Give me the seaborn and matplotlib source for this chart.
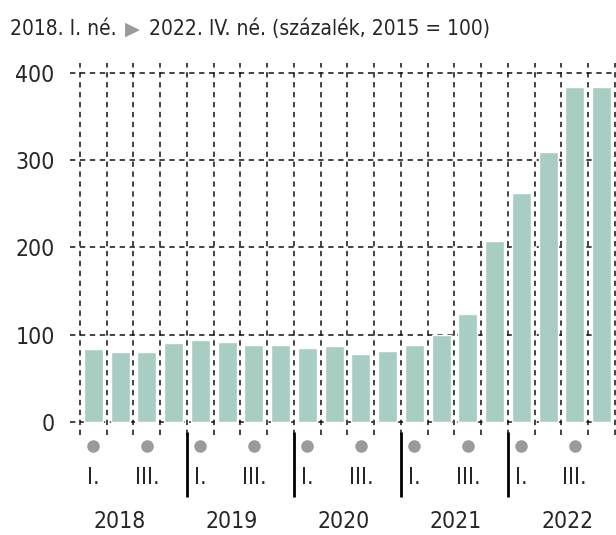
import numpy as np
import pandas as pd
import matplotlib
matplotlib.use('Agg')
import matplotlib.pyplot as plt
from matplotlib import font_manager
import seaborn as sns

# Data, quarterly index, 2015 = 100
years = ['2018', '2019', '2020', '2021', '2022']
quarters = ['I.', 'II.', 'III.', 'IV.']
values = [84, 80, 79.5, 90.5,
          94, 91.5, 87.5, 87.5,
          84.5, 86.5, 77.5, 81,
          88, 99, 124, 208,
          262, 310, 384, 384]
yticks = [0, 100, 200, 300, 400]
title_parts = ['2018. I. né.', '2022. IV. né. (százalék, 2015 = 100)']

cats = [f'{y} {q}' for y in years for q in quarters]
df = pd.DataFrame({'quarter': cats, 'value': values})

# look for a condensed face, the original uses a narrow font
cond = [f for f in font_manager.fontManager.ttflist
        if ('Condensed' in f.name or 'Narrow' in f.name
            or str(f.stretch) in ('condensed', 'semi-condensed', 'extra-condensed'))
        and f.weight in (400, 'normal', 'regular') and f.style == 'normal']

sns.set_style('white')
if cond:
    fp = font_manager.FontProperties(fname=cond[0].fname)
    FS, TFS = 16.5, 15
else:
    fp = font_manager.FontProperties(family='Liberation Sans')
    FS, TFS = 15, 13
plt.rcParams['font.family'] = [fp.get_name(), 'DejaVu Sans']

bar_col = '#a8cdc3'
dot_col = '#9a9a9a'

fig = plt.figure(figsize=(6.16, 5.35), dpi=100)
ax = fig.add_axes([70 / 616, 100 / 535, 546 / 616, 371.7 / 535])

sns.barplot(data=df, x='quarter', y='value', color=bar_col, width=0.71,
            saturation=1, ax=ax, zorder=3)

n = len(cats)
ax.set_xlim(-0.874, n - 0.46)
ax.set_ylim(-15.3, 411.5)
ax.set_xticks([])
ax.set_xticks(np.arange(n + 1) - 0.5, minor=True)
ax.set_yticks(yticks)
ax.set_yticklabels([str(v) for v in yticks], fontproperties=fp, fontsize=FS)
ax.tick_params(axis='both', which='both', length=0)
ax.tick_params(axis='y', pad=11)
ax.set_xlabel('')
ax.set_ylabel('')
for s in ax.spines.values():
    s.set_visible(False)

grid_kw = dict(color='#111111', linestyle=(0, (3.5, 3)), linewidth=1.1, zorder=1)
ax.grid(axis='x', which='minor', **grid_kw)
ax.grid(axis='y', which='major', **grid_kw)
ax.set_axisbelow(True)

# Quarter markers below the axis
tr = ax.get_xaxis_transform()
for i, c in enumerate(cats):
    q = i % 4
    if q in (0, 2):
        ax.scatter(i, -0.029, s=64, color=dot_col, transform=tr, clip_on=False, zorder=4)
        ax.text(i, -0.113, quarters[q], transform=tr, ha='center', va='center',
                fontproperties=fp, fontsize=FS, clip_on=False)

# Year separators
for k in range(1, len(years)):
    ax.plot([4 * k - 0.5, 4 * k - 0.5], [0.009, -0.166], transform=tr,
            color='black', linewidth=2, clip_on=False, solid_capstyle='butt')

# Year labels
for k, y in enumerate(years):
    ax.text(1.0 + 4.18 * k, -0.234, y, transform=tr, ha='center', va='center',
            fontproperties=fp, fontsize=FS, clip_on=False)

# Title with grey arrow
fig.canvas.draw()
r = fig.canvas.get_renderer()
ty = 1 - 29 / 535
t1 = fig.text(10 / 616, ty, title_parts[0], fontproperties=fp, fontsize=TFS,
              va='center', ha='left')
bb = t1.get_window_extent(r)
t2 = fig.text((bb.x1 + 8) / 616, ty, '▶', fontsize=14, color=dot_col,
              va='center', ha='left', family='DejaVu Sans')
bb = t2.get_window_extent(r)
fig.text((bb.x1 + 9) / 616, ty, title_parts[1], fontproperties=fp, fontsize=TFS,
         va='center', ha='left')

fig.savefig('out.png', dpi=100)
